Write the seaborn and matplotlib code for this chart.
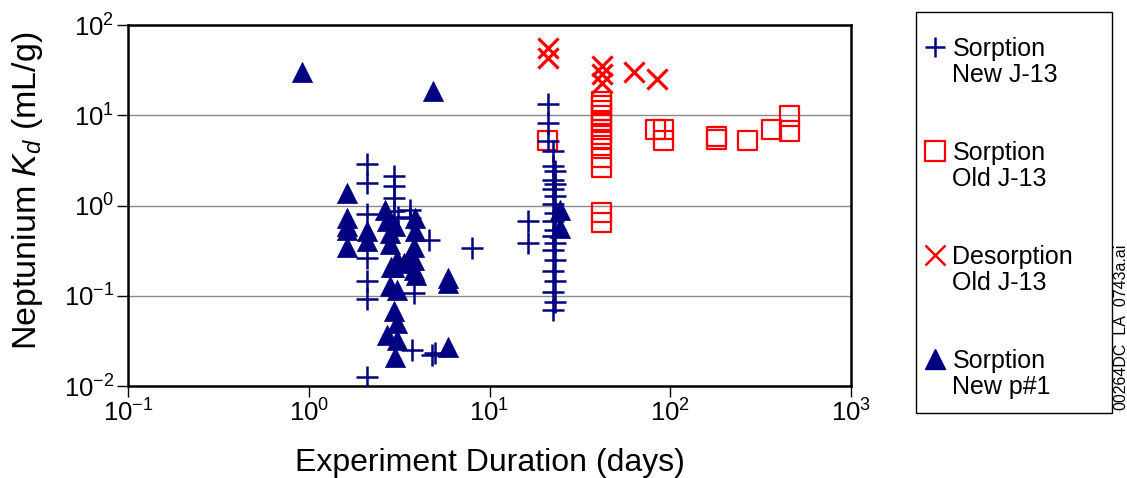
import numpy as np
import pandas as pd
import matplotlib
matplotlib.use("Agg")
import matplotlib.pyplot as plt
import seaborn as sns
from matplotlib.lines import Line2D
from matplotlib.patches import Rectangle
from matplotlib.ticker import LogLocator, LogFormatterSciNotation, NullLocator

# ---------------- data ----------------
new_j13_days = [2.1, 2.1, 2.1, 2.1, 2.1, 2.1, 2.1,
                2.95, 2.95, 2.95, 2.95, 3.1, 3.64, 3.64, 4.6, 8.0, 3.8, 3.72, 4.8, 5.0,
                21.0, 21.0, 21.0, 22.5, 22.5, 23.0, 22.5, 23.0, 22.5, 23.0, 22.5, 23.0,
                22.5, 23.0, 22.5, 23.0, 22.5, 23.0, 22.5, 23.0, 22.5, 23.0, 22.5,
                16.4, 16.4]
new_j13_kd = [2.86, 1.79, 0.80, 0.26, 0.144, 0.092, 0.0127,
              2.12, 1.64, 1.22, 0.86, 0.75, 0.73, 0.90, 0.42, 0.34, 0.107, 0.025, 0.022, 0.023,
              13.2, 8.3, 5.2, 4.0, 2.73, 2.41, 1.94, 1.71, 1.51, 1.27, 1.03, 0.83,
              0.67, 0.54, 0.456, 0.385, 0.324, 0.25, 0.186, 0.144, 0.111, 0.086, 0.070,
              0.67, 0.385]

old_j13_days = [21.0, 41.8, 41.8, 41.8, 41.8, 41.8, 41.8, 41.8, 41.8, 41.8, 41.8, 41.8,
                41.8, 41.8, 82.6, 91.4, 91.4, 180, 180, 269, 363, 458, 458]
old_j13_kd = [5.3, 14.2, 12.7, 11.2, 9.8, 8.3, 7.0, 6.2, 5.4, 4.6, 3.4, 2.66,
              0.84, 0.65, 7.0, 7.0, 5.2, 5.4, 5.8, 5.2, 7.0, 9.8, 6.7]

desorp_days = [21.0, 21.0, 41.8, 41.8, 41.8, 63.0, 84.0]
desorp_kd = [56.0, 43.6, 35.0, 28.6, 23.0, 29.8, 25.1]

p1_days = [0.92, 4.86,
           1.63, 1.63, 1.63, 1.63, 1.63,
           2.1, 2.1,
           2.65, 2.71, 2.8, 2.8, 3.0,
           3.88, 3.88, 3.8,
           3.08, 2.85, 3.64, 2.95, 3.35, 3.8, 3.9, 3.8,
           2.82, 3.08, 2.95, 3.08, 2.71, 3.08, 3.0,
           5.9, 5.9, 5.9,
           24.6, 24.6]
p1_kd = [30.0, 18.6,
         1.38, 0.73, 0.54, 0.35, 0.60,
         0.52, 0.40,
         0.90, 0.67, 0.50, 0.37, 0.59,
         0.73, 0.52, 0.35,
         0.25, 0.21, 0.25, 0.21, 0.23, 0.25, 0.17, 0.195,
         0.127, 0.117, 0.067, 0.050, 0.037, 0.032, 0.021,
         0.157, 0.14, 0.027,
         0.90, 0.565]

series_labels = ["Sorption\nNew J-13", "Sorption\nOld J-13",
                 "Desorption\nOld J-13", "Sorption\nNew p#1"]
x_label = "Experiment Duration (days)"
y_label = r"Neptunium $K_d$ (mL/g)"
file_tag = "00264DC_LA_0743a.ai"

NAVY = "#000080"
RED = "#FF0000"

# ---------------- style ----------------
sns.set_theme(style="white")
plt.rcParams["font.family"] = ["Liberation Sans", "DejaVu Sans"]
plt.rcParams["mathtext.fontset"] = "custom"
plt.rcParams["mathtext.rm"] = "Liberation Sans"
plt.rcParams["mathtext.it"] = "Liberation Sans:italic"
plt.rcParams["mathtext.bf"] = "Liberation Sans:bold"
for key in ["text.color", "axes.labelcolor", "xtick.color", "ytick.color",
            "xtick.labelcolor", "ytick.labelcolor"]:
    plt.rcParams[key] = "black"

W, H = 1127, 478
fig = plt.figure(figsize=(W / 100, H / 100), dpi=100)
ax = fig.add_axes([128 / W, 1 - 386 / H, (851 - 128) / W, (386 - 25) / H])

df_new = pd.DataFrame({"days": new_j13_days, "kd": new_j13_kd})
df_old = pd.DataFrame({"days": old_j13_days, "kd": old_j13_kd})
df_des = pd.DataFrame({"days": desorp_days, "kd": desorp_kd})
df_p1 = pd.DataFrame({"days": p1_days, "kd": p1_kd})

sns.scatterplot(data=df_old, x="days", y="kd", ax=ax, marker="s", s=190,
                facecolor="none", edgecolor=RED, linewidth=1.6, zorder=3)
sns.scatterplot(data=df_des, x="days", y="kd", ax=ax, marker="x", s=210,
                color=RED, linewidth=2.3, zorder=3)
sns.scatterplot(data=df_new, x="days", y="kd", ax=ax, marker="+", s=230,
                color=NAVY, linewidth=1.8, zorder=4)
sns.scatterplot(data=df_p1, x="days", y="kd", ax=ax, marker="^", s=210,
                color=NAVY, edgecolor=NAVY, linewidth=0.5, zorder=5)

ax.set_xscale("log")
ax.set_yscale("log")
ax.set_xlim(0.1, 1000)
ax.set_ylim(0.01, 100)
ax.xaxis.set_major_locator(LogLocator(base=10, numticks=10))
ax.yaxis.set_major_locator(LogLocator(base=10, numticks=10))
ax.xaxis.set_minor_locator(NullLocator())
ax.yaxis.set_minor_locator(NullLocator())
ax.xaxis.set_major_formatter(LogFormatterSciNotation())
ax.yaxis.set_major_formatter(LogFormatterSciNotation())

ax.grid(False)
for v in [0.1, 1, 10]:
    ax.axhline(v, color="#8a8a8a", lw=1.0, zorder=1)

for sp in ax.spines.values():
    sp.set_color("black")
    sp.set_linewidth(1.8)
ax.tick_params(axis="both", which="major", direction="out", length=8, width=1.0,
               color="black", labelcolor="black", labelsize=18.5, pad=2,
               bottom=True, left=True)

ax.set_xlabel(x_label, fontsize=23, labelpad=15)
ax.set_ylabel(y_label, fontsize=24.5)
ax.yaxis.set_label_coords((45 - 128) / 723, (386 - 191) / 361)

# ---------------- legend ----------------
LFS = 18
mk = [
    dict(marker="+", color=NAVY, markersize=15, markeredgewidth=1.8),
    dict(marker="s", markerfacecolor="none", markeredgecolor=RED, markersize=14, markeredgewidth=1.6),
    dict(marker="x", color=RED, markersize=14, markeredgewidth=1.8),
    dict(marker="^", color=NAVY, markersize=15),
]
handles, labels = [], []
for i, (lab, m) in enumerate(zip(series_labels, mk)):
    first, second = lab.split("\n")
    handles.append(Line2D([], [], ls="none", **m))
    labels.append(first)
    handles.append(Line2D([], [], ls="none", marker=None))
    labels.append(second)
    if i < len(series_labels) - 1:
        for _ in range(2):
            handles.append(Line2D([], [], ls="none", marker=None))
            labels.append(" ")

leg = fig.legend(handles, labels, loc="upper left",
                 bbox_to_anchor=(922 / W, 1 - 37 / H),
                 borderaxespad=0, fontsize=LFS, labelspacing=0.08,
                 handlelength=1.0, handletextpad=0.22, borderpad=0.0,
                 frameon=False, labelcolor="black")

fig.patches.append(Rectangle((916 / W, 1 - 413 / H), 196 / W, 401 / H,
                             transform=fig.transFigure, fill=False,
                             edgecolor="black", linewidth=1.0))

fig.text(1121 / W, 1 - 410 / H, file_tag, rotation=90, fontsize=11.5,
         ha="center", va="bottom", color="black")

fig.savefig("out.png", dpi=100)
